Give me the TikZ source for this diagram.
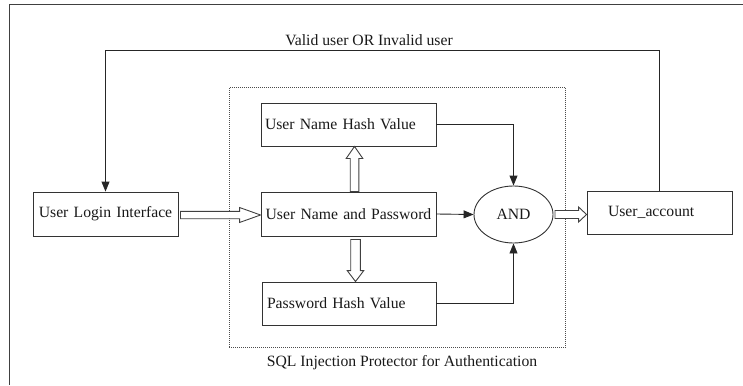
\documentclass[tikz,border=0pt]{standalone}
\usepackage{fontspec}
\setmainfont{Liberation Serif}
\usetikzlibrary{arrows.meta,calc,shapes.geometric}

% Block arrows drawn as outlined polygons: #1 start, #2 tip,
% #3 half shaft width, #4 head length, #5 half head width
\newcommand\fatRight[5]{\draw[hollow] let \p1=(#1), \p2=(#2) in
  (\x1,\y1+#3) -- (\x2-#4,\y1+#3) -- (\x2-#4,\y1+#5) -- (\x2,\y1)
  -- (\x2-#4,\y1-#5) -- (\x2-#4,\y1-#3) -- (\x1,\y1-#3) -- cycle;}
\newcommand\fatUp[5]{\draw[hollow] let \p1=(#1), \p2=(#2) in
  (\x1-#3,\y1) -- (\x1-#3,\y2-#4) -- (\x1-#5,\y2-#4) -- (\x1,\y2)
  -- (\x1+#5,\y2-#4) -- (\x1+#3,\y2-#4) -- (\x1+#3,\y1) -- cycle;}
\newcommand\fatDown[5]{\draw[hollow] let \p1=(#1), \p2=(#2) in
  (\x1-#3,\y1) -- (\x1-#3,\y2+#4) -- (\x1-#5,\y2+#4) -- (\x1,\y2)
  -- (\x1+#5,\y2+#4) -- (\x1+#3,\y2+#4) -- (\x1+#3,\y1) -- cycle;}

\begin{document}
\begin{tikzpicture}[x=1pt,y=-1pt,
  every node/.style={font=\fontsize{15.7}{18}\selectfont, text=black!90},
  blk/.style={draw=black!80, line width=0.9pt, rectangle, inner sep=0pt},
  conn/.style={draw=black!85, line width=0.9pt, -{Triangle[length=10pt,width=8pt]}},
  hollow/.style={draw=black!75, line width=0.9pt, fill=white, line join=miter},
  protframe/.style={draw=black!70, line width=1pt, dash pattern=on 1pt off 1pt}]
\useasboundingbox (0,0) rectangle (743,385);

% page rule
\draw[line width=1.6pt, black!75] (743,4.5) -- (9.5,4.5) -- (9.5,385);

% protector frame and caption
\node[protframe, minimum width=336.5pt, minimum height=259pt, inner sep=0pt] (prot) at (397.3,217.5) {};
\node (cap) at (402,363) {SQL Injection Protector for Authentication};

% blocks
\node[blk, minimum width=145pt, minimum height=44pt, text width=137pt, align=center] (uli) at (105.5,214) {User Login Interface};
\node[blk, minimum width=175pt, minimum height=43pt, inner xsep=4pt, text width=167pt, align=left] (unhv) at (348.5,124.5) {User Name Hash Value};
\node[blk, minimum width=175pt, minimum height=44pt, text width=170pt, align=center] (unp) at (348.5,214) {User Name and Password};
\node[blk, minimum width=174pt, minimum height=43pt, inner xsep=5pt, text width=164pt, align=left] (phv) at (349,303.5) {Password Hash Value};
\node[blk, minimum width=145pt, minimum height=43pt, inner xsep=21pt, text width=103pt, align=left] (ua) at (659.5,212.5) {User\_account};
\node[draw=black!80, line width=0.9pt, ellipse, inner sep=0pt, minimum width=79pt, minimum height=57pt] (and) at (513.5,214.5) {AND};

% feedback loop
\node (fb) at (369,40.5) {Valid user OR Invalid user};
\coordinate (fbtop) at (0,50);
\draw[conn] (ua.north) -- (ua.north |- fbtop) -- (uli.north |- fbtop) -- (uli.north);

% thin connectors into AND
\draw[conn] (unhv.east) -| (and.north);
\draw[conn] (phv.east) -| (and.south);
\draw[conn] (unp.east) -- (and.west);

% block arrows
\fatRight{[xshift=2pt,yshift=-1pt]uli.east}{[yshift=-1pt]unp.west}{3.7pt}{21pt}{7.5pt}
\fatUp{[xshift=6pt]unp.north}{[xshift=6pt]unhv.south}{4.3pt}{12pt}{8.3pt}
\fatDown{[xshift=7pt,yshift=-3pt]unp.south}{[xshift=7pt]phv.north}{4.8pt}{11pt}{8.3pt}
\fatRight{[xshift=1.5pt]and.east}{[yshift=-1.5pt]ua.west}{4pt}{8pt}{7.5pt}
\end{tikzpicture}
\end{document}
